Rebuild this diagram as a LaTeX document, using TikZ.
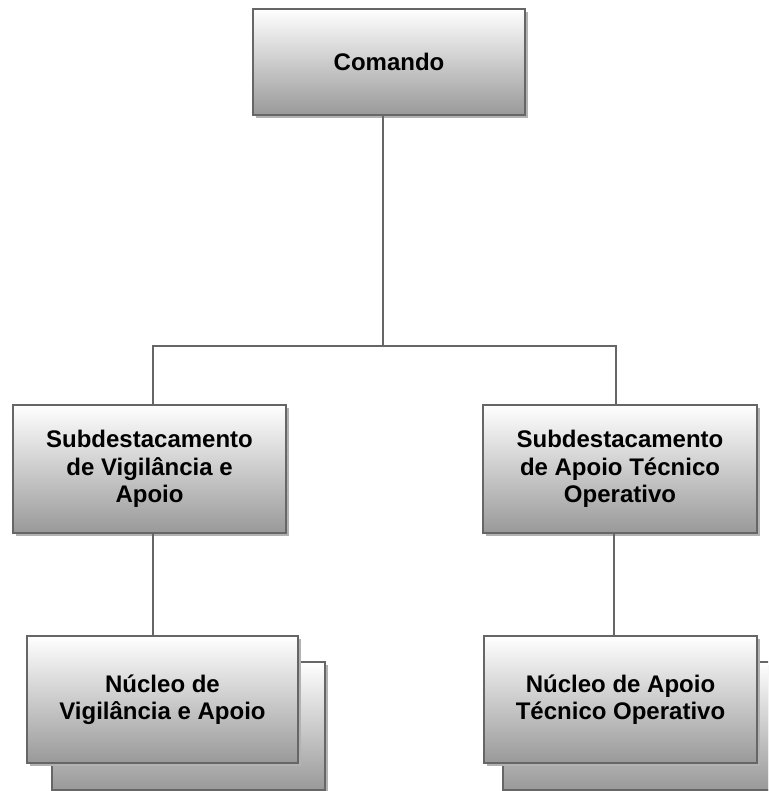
\documentclass[tikz,border=0pt]{standalone}
\usepackage{fontspec}
\setmainfont{Liberation Sans}
\usetikzlibrary{shadows}
\begin{document}
\begin{tikzpicture}[x=1pt,y=-1pt,
  orgbox/.style={draw=black!60, line width=2pt, top color=white, bottom color=black!40,
    drop shadow={shadow xshift=3pt, shadow yshift=-3pt, fill=black!30, opacity=1},
    align=center, inner sep=0pt, font=\fontsize{24}{27.5}\selectfont\bfseries, text=black},
  conn/.style={draw=black!60, line width=2pt}]
\useasboundingbox (0,0) rectangle (768,791);
\clip (0,0) rectangle (768,791);
% back boxes
\node[orgbox, minimum width=273pt, minimum height=128pt] (nlb) at (188.5,726) {};
\node[orgbox, minimum width=273pt, minimum height=128pt] (nrb) at (639.5,726) {};
% main boxes
\node[orgbox, minimum width=272pt, minimum height=106pt] (c) at (389,62) {Comando};
\node[orgbox, minimum width=273pt, minimum height=128pt] (sl) at (149.5,469) {Subdestacamento\\de Vigilância e\\Apoio};
\node[orgbox, minimum width=274pt, minimum height=128pt] (sr) at (620,469) {Subdestacamento\\de Apoio Técnico\\Operativo};
\node[orgbox, minimum width=271pt, minimum height=127pt] (nl) at (162.5,699.5) {Núcleo de\\Vigilância e Apoio};
\node[orgbox, minimum width=273pt, minimum height=127pt] (nr) at (620.5,699.5) {Núcleo de Apoio\\Técnico Operativo};
% connectors
\coordinate (hc) at (383,346);
\coordinate (hl) at (153,346);
\coordinate (hr) at (616,346);
\coordinate (vr) at (614,600);
\draw[conn] (c.south -| hc) -- (hc);
\draw[conn] (sl.north -| hl) -- (hl) -- (hr) -- (sr.north -| hr);
\draw[conn] (sl.south -| hl) -- (nl.north -| hl);
\draw[conn] (sr.south -| vr) -- (nr.north -| vr);
\end{tikzpicture}
\end{document}
